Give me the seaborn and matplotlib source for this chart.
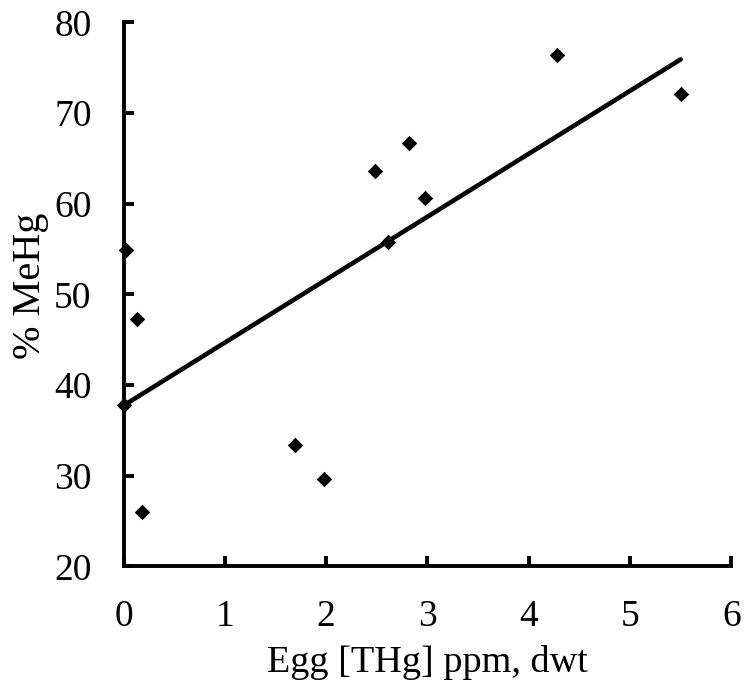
import matplotlib
matplotlib.use("Agg")
import matplotlib.pyplot as plt
import seaborn as sns
import pandas as pd

egg_thg = [0.02, 0.13, 0.00, 0.18, 1.69, 1.98, 2.48, 2.61, 2.82, 2.98, 4.28, 5.50]
pct_mehg = [54.9, 47.3, 37.8, 26.0, 33.4, 29.6, 63.6, 55.8, 66.7, 60.6, 76.4, 72.1]
x_ticks = [0, 1, 2, 3, 4, 5, 6]
y_ticks = [20, 30, 40, 50, 60, 70, 80]

df = pd.DataFrame({"x": egg_thg, "y": pct_mehg})

sns.set_style("ticks")
plt.rcParams["font.family"] = ["Liberation Serif", "DejaVu Serif"]
plt.rcParams["text.color"] = "black"
plt.rcParams["axes.labelcolor"] = "black"
plt.rcParams["xtick.color"] = "black"
plt.rcParams["ytick.color"] = "black"

fig = plt.figure(figsize=(7.44, 6.80), dpi=100)
ax = fig.add_axes([0.166, 0.167, 0.817, 0.800])

sns.regplot(data=df, x="x", y="y", ax=ax, ci=None, color="black", marker="D",
            scatter_kws={"s": 62, "linewidths": 0, "alpha": 1, "clip_on": False, "zorder": 3},
            line_kws={"lw": 3.3, "solid_capstyle": "round", "clip_on": False})

ax.set_xlim(0, 6)
ax.set_ylim(20, 80)
ax.set_xticks(x_ticks)
ax.set_yticks(y_ticks)
ax.set_xlabel("Egg [THg] ppm, dwt", fontsize=27.5, labelpad=8)
ax.set_ylabel("% MeHg", fontsize=29, labelpad=5)
ax.yaxis.set_label_coords(-0.122, 0.515)
ax.tick_params(axis="both", direction="in", length=7, width=2.8, labelsize=27,
               color="black", labelcolor="black")
ax.tick_params(axis="x", pad=24)
ax.tick_params(axis="y", pad=23)
for s in ["top", "right"]:
    ax.spines[s].set_visible(False)
for s in ["left", "bottom"]:
    ax.spines[s].set_linewidth(2.8)
    ax.spines[s].set_color("black")

fig.savefig("out.png", dpi=100)
